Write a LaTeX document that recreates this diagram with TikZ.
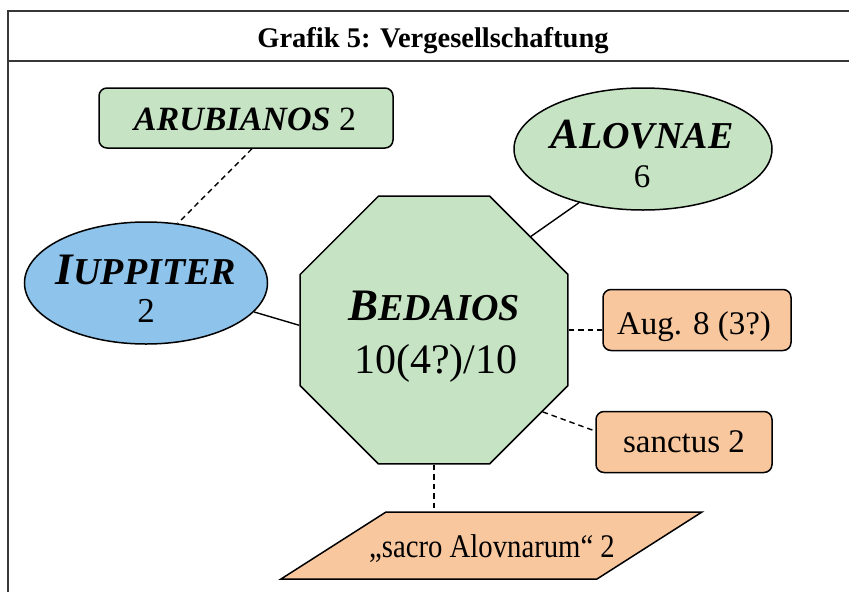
\documentclass[tikz,border=0pt]{standalone}
\usepackage{fontspec}
\usepackage{graphicx}
\setmainfont{Liberation Serif}
\usetikzlibrary{shapes.geometric}
\definecolor{grn}{RGB}{198,228,196}
\definecolor{blu}{RGB}{142,195,235}
\definecolor{org}{RGB}{249,199,158}
\definecolor{framec}{RGB}{55,55,55}
\newcommand\fs[1]{\fontsize{#1}{#1}\selectfont}
\begin{document}
\begin{tikzpicture}[x=1pt,y=-1pt,
 shapeline/.style={draw=black,line width=1.5pt},
 rbox/.style={shapeline,rectangle,rounded corners=8pt,inner sep=0pt},
 oval/.style={shapeline,ellipse,inner sep=0pt},
 solidlink/.style={line width=1.4pt},
 dashlink/.style={line width=1.4pt,dash pattern=on 5.5pt off 4pt},
 txt/.style={inner sep=0pt,anchor=base}
]
\useasboundingbox (0,0) rectangle (849,592);
% frame
\draw[framec,line width=2pt] (849,11) -- (8,11) -- (8,592);
\draw[framec,line width=2pt] (8,61) -- (849,61);
\node[txt] (title) at (433,47) {\fs{28.5}\bfseries Grafik 5: Vergesellschaftung};
% shapes
\node[rbox,fill=grn,minimum width=294pt,minimum height=60pt] (aru) at (246,118) {};
\node[oval,fill=blu,minimum width=243pt,minimum height=122pt] (iup) at (146,283) {};
\node[oval,fill=grn,minimum width=258pt,minimum height=122pt] (alo) at (643,149) {};
\node[shapeline,regular polygon,regular polygon sides=8,minimum size=290pt,inner sep=0pt,fill=grn] (bed) at (434,330) {};
\node[rbox,fill=org,minimum width=188pt,minimum height=61pt] (aug) at (697,320) {};
\node[rbox,fill=org,minimum width=176pt,minimum height=61pt] (san) at (684,442) {};
\draw[shapeline,fill=org] (386,512) -- (702,512) -- (597,579) -- (281,579) -- cycle;
\coordinate (sacrotop) at (434,512);
% texts
\node[txt] (arut) at (245,130) {\fs{34}\textbf{\textit{ARUBIANOS}} 2};
\node[txt] (iupt) at (146,284) {\fs{45}\bfseries\itshape I\fs{38}UPPITER};
\node[txt] (iupn) at (146,322) {\fs{35}2};
\node[txt] (alot) at (642,148) {\fs{43}\bfseries\itshape A\fs{38}LOVNAE};
\node[txt] (alon) at (642,187) {\fs{33}6};
\node[txt] (bedt) at (434,320) {\fs{45}\bfseries\itshape B\fs{38}EDAIOS};
\node[txt] (bedn) at (436,373) {\fs{42}10(4?)/10};
\node[txt] (augt) at (694,334) {\fs{33}Aug. 8 (3?)};
\node[txt] (sant) at (684,452) {\fs{33}sanctus 2};
\node[txt] (sacrot) at (492,557) {\scalebox{0.87}[1]{\fs{33}„sacro Alovnarum“ 2}};
% connectors
\draw[dashlink] (aru.-79) -- (iup.62);
\draw[solidlink] (iup.-15.4) -- (bed.178);
\draw[solidlink] (alo.220) -- (bed.44);
\draw[dashlink] (bed.east) -- (bed.east -| aug.west);
\draw[dashlink] (bed.-37) -- (san.173);
\draw[dashlink] (bed.south) -- (sacrotop);
\end{tikzpicture}
\end{document}
